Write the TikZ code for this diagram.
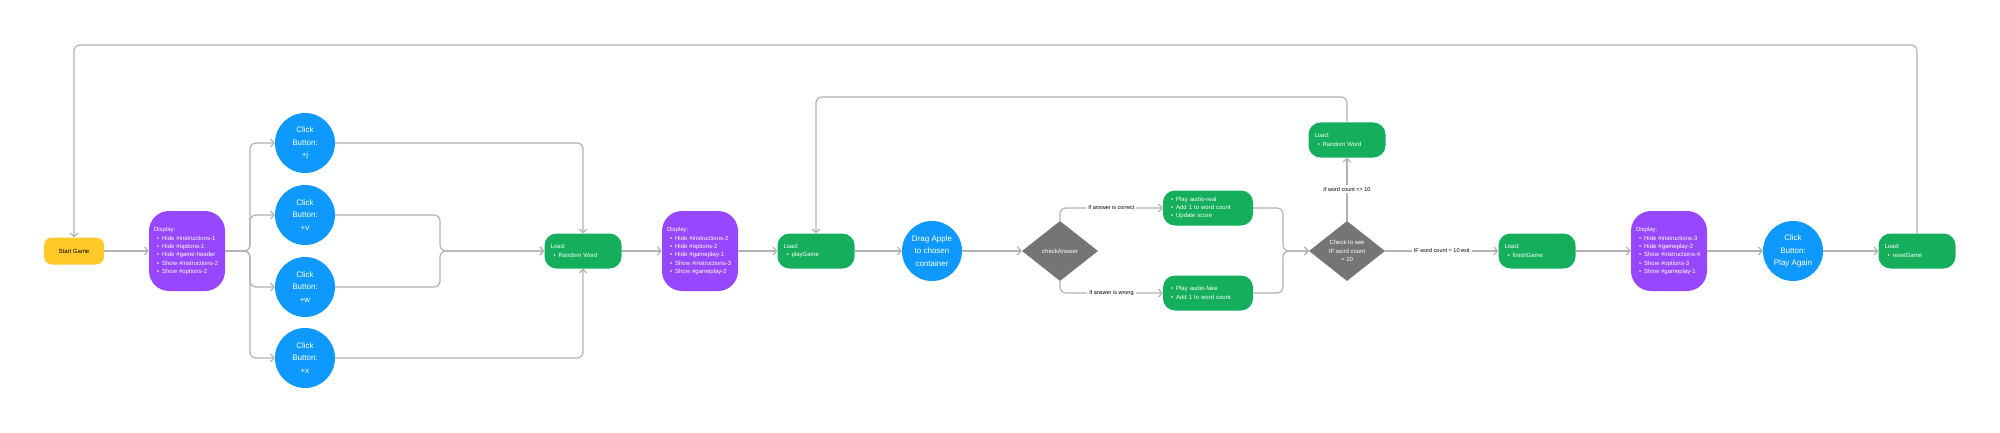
\documentclass[tikz,border=0pt]{standalone}
\usepackage{fontspec}
\setmainfont{Liberation Sans}
\usetikzlibrary{arrows.meta,shapes.geometric}

\definecolor{flowyellow}{HTML}{FFC929}
\definecolor{flowpurple}{HTML}{9747FF}
\definecolor{flowblue}{HTML}{0D99FF}
\definecolor{flowgreen}{HTML}{14AE5C}
\definecolor{flowgrey}{HTML}{757575}
\definecolor{flowline}{HTML}{B3B3B3}

\newcommand{\bul}[1]{\hspace*{3pt}\textbullet\hspace{3pt}\mbox{#1}}

\begin{document}
\begin{tikzpicture}[x=1pt,y=1pt,
        conn/.style = {draw=flowline, line width=1.2pt, rounded corners=6pt,
            -{Straight Barb[length=3.5pt,width=8pt]}},
        lbl/.style = {fill=white, text=black, sharp corners, inner sep=2pt,
            font=\fontsize{5.5}{7}\selectfont},
        box/.style = {text=white, align=left, font=\fontsize{6}{8.3}\selectfont},
        disp/.style = {box, fill=flowpurple, rounded corners=20pt,
            minimum width=76pt, minimum height=80pt, text width=66pt, inner xsep=5pt},
        load/.style = {box, fill=flowgreen, rounded corners=12pt,
            minimum width=77pt, minimum height=35pt, text width=65pt, inner xsep=6pt},
        act/.style = {load, minimum width=90pt, text width=80pt, inner xsep=5pt},
        btn/.style = {circle, fill=flowblue, text=white, minimum size=60pt,
            inner sep=0pt, align=center, font=\fontsize{8}{12.4}\selectfont},
        check/.style = {diamond, aspect=1.27, fill=flowgrey, text=white,
            minimum width=76pt, minimum height=60pt, inner sep=0pt,
            align=center, font=\fontsize{6}{8.3}\selectfont},
    ]

    \fill[white] (0,0) rectangle (2000,432);
    \useasboundingbox (0,0) rectangle (2000,432);

    % Start
    \node[fill=flowyellow, rounded corners=8pt, minimum width=60pt, minimum height=27pt,
        font=\fontsize{6}{8}\selectfont] (start) at (74,181) {Start Game};

    % First display
    \node[disp] (d1) at (187,181) {Display:\\\bul{Hide \#instructions-1}\\\bul{Hide \#options-1}\\
        \bul{Hide \#game-header}\\\bul{Show \#instructions-2}\\\bul{Show \#options-2}};

    % Buttons
    \node[btn] (bj) at (305,289) {Click\\Button:\\+j};
    \node[btn] (bv) at (305,217) {Click\\Button:\\+v};
    \node[btn] (bw) at (305,145) {Click\\Button:\\+w};
    \node[btn] (bx) at (305,74) {Click\\Button:\\+x};

    % Load word and play
    \node[load] (ld1) at (583,181) {Load:\\\bul{Random Word}};
    \node[disp] (d2) at (700,181) {Display:\\\bul{Hide \#instructions-2}\\\bul{Hide \#options-2}\\
        \bul{Hide \#gameplay-1}\\\bul{Show \#instructions-3}\\\bul{Show \#gameplay-2}};
    \node[load] (pg) at (816,181) {Load:\\\bul{playGame}};
    \node[btn] (drag) at (932,181) {Drag Apple\\to chosen\\container};

    % Answer check
    \node[check] (chk) at (1060,181) {checkAnswer};
    \node[act] (ok) at (1208,224) {\bul{Play audio-real}\\\bul{Add 1 to word count}\\\bul{Update score}};
    \node[act] (bad) at (1208,139) {\bul{Play audio-fake}\\\bul{Add 1 to word count}};

    % Word count check
    \node[check] (chk2) at (1347,181) {Check to see\\IF word count\\= 10};
    \node[load] (ld3) at (1347,292) {Load:\\\bul{Random Word}};

    % Finish
    \node[load] (fin) at (1537,181) {Load:\\\bul{finishGame}};
    \node[disp] (d3) at (1669,181) {Display:\\\bul{Hide \#instructions-3}\\\bul{Hide \#gameplay-2}\\
        \bul{Show \#instructions-4}\\\bul{Show \#options-3}\\\bul{Show \#gameplay-1}};
    \node[btn] (again) at (1793,181) {Click\\Button:\\Play Again};
    \node[load] (rst) at (1917,181) {Load:\\\bul{resetGame}};

    % Helper points
    \coordinate (split) at (250,181);
    \coordinate (join) at (440,181);
    \coordinate (join2) at (1283,181);
    \coordinate (loopA) at (74,387);
    \coordinate (loopB) at (816,335);

    % Connectors
    \draw[conn] (start) -- (d1);
    \foreach \b in {bj,bv,bw,bx}
        \draw[conn] (d1.east) -- (split) |- (\b.west);
    \draw[conn] (bj.east) -| (ld1.north);
    \draw[conn] (bv.east) -| (join) -- (ld1.west);
    \draw[conn] (bw.east) -| (join) -- (ld1.west);
    \draw[conn] (bx.east) -| (ld1.south);
    \draw[conn] (ld1) -- (d2);
    \draw[conn] (d2) -- (pg);
    \draw[conn] (pg) -- (drag);
    \draw[conn] (drag) -- (chk);
    \draw[conn] (chk.north) |- node[lbl, pos=0.75] {If answer is correct} (ok.west);
    \draw[conn] (chk.south) |- node[lbl, pos=0.75] {If answer is wrong} (bad.west);
    \draw[conn] (ok.east) -| (join2) -- (chk2.west);
    \draw[conn] (bad.east) -| (join2) -- (chk2.west);
    \draw[conn] (chk2.north) -- node[lbl] {If word count <> 10} (ld3.south);
    \draw[conn] (ld3.north) |- (loopB) -- (pg.north);
    \draw[conn] (chk2.east) -- node[lbl] {IF word count = 10 exit} (fin.west);
    \draw[conn] (fin) -- (d3);
    \draw[conn] (d3) -- (again);
    \draw[conn] (again) -- (rst);
    \draw[conn] (rst.north) |- (loopA) -- (start.north);

\end{tikzpicture}
\end{document}
